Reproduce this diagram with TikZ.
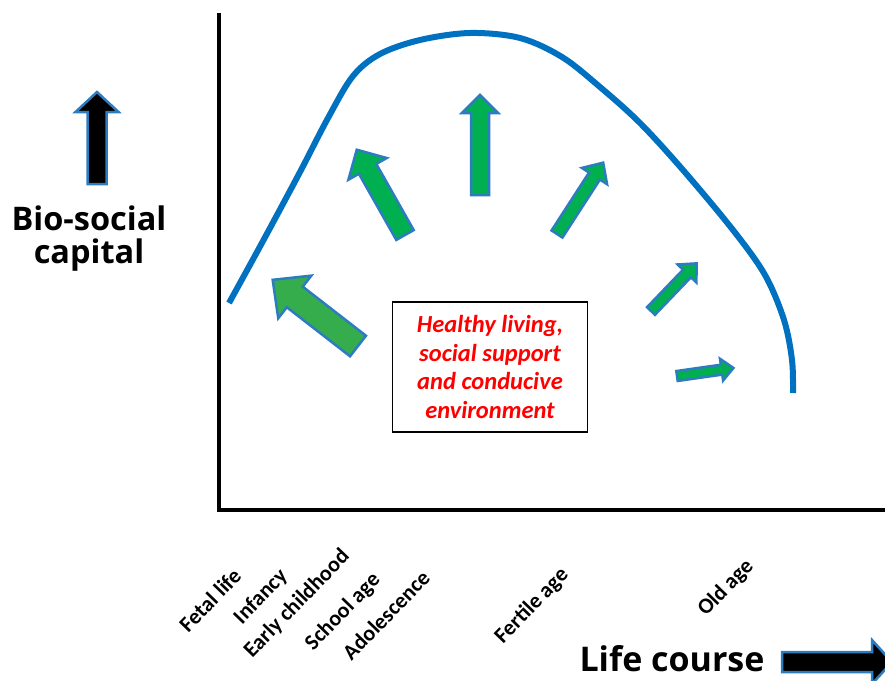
\documentclass[tikz,border=0pt]{standalone}
\usepackage{fontspec}
\setmainfont{Carlito}
\newfontfamily\headfont{Open Sans}
\usepackage{tikz}
\usetikzlibrary{positioning}
\usepackage{xcolor}
\definecolor{curveblue}{HTML}{0070C0}
\definecolor{rimblue}{HTML}{2E7CC0}
\definecolor{boostgreen}{HTML}{00B050}
\definecolor{biggreen}{HTML}{36AD4C}

% block arrow: tail point, angle, length, shaft width, head width, head length
\newcommand{\blockarrow}[7][boostgreen]{%
  \begin{scope}[shift={(#2)},rotate=#3]
    \filldraw[fill=#1,draw=rimblue,line width=2.5,line join=miter]
      (0,-#5/2) -- (#4-#7,-#5/2) -- (#4-#7,-#6/2) -- (#4,0)
      -- (#4-#7,#6/2) -- (#4-#7,#5/2) -- (0,#5/2) -- cycle;
  \end{scope}}

\begin{document}
\begin{tikzpicture}[x=1pt,y=-1pt,
  stage/.style={font=\fontsize{22}{22}\selectfont\bfseries,rotate=46,inner sep=0},
  axisname/.style={font=\headfont\fontsize{32.5}{32.5}\selectfont\bfseries,inner sep=0}]
\useasboundingbox (0,0) rectangle (885,680);

\coordinate (ytop) at (219,13);
\coordinate (o) at (219,510);
\coordinate (xend) at (885,510);
\draw[line width=4] (ytop) -- (o) -- (xend);

% bio-social capital over the life course
\draw[curveblue,line width=6] plot[smooth,tension=0.55] coordinates
  {(229,303) (263,241) (300,172) (328,118) (353,76) (380,54) (420,40) (470,33)
   (520,38) (562,57) (600,87) (640,123) (683,170) (733,230) (765,275) (784,320)
   (792,360) (793,393)};

\blockarrow[biggreen]{358,346}{142.2}{108}{26}{54}{28}
\blockarrow{405,235}{119.5}{98}{20}{44}{22}
\blockarrow{480,195}{90}{100}{18}{36}{18}
\blockarrow{557,234}{57.1}{85}{13}{30}{16}
\blockarrow{651,311}{46.2}{66}{11}{26}{14}
\blockarrow{677,376}{8.1}{57}{10}{22}{12}

\node[draw,line width=1.3,minimum width=195,minimum height=130,align=center,text=red,
  font=\fontsize{24.5}{28.5}\selectfont\bfseries\itshape] (care) at (490,367)
  {Healthy living,\\ social support\\ and conducive\\ environment};

\blockarrow[black]{97,184}{90}{92}{19}{43}{20}
\node[axisname,anchor=base] (bio) at (89,230) {Bio-social};
\node[axisname,anchor=base] (cap) at (89,263) {capital};

\node[axisname,anchor=base,font=\headfont\fontsize{34}{34}\selectfont\bfseries] (life) at (672,671) {Life course};
\blockarrow[black]{782,662}{0}{110}{20}{44}{20}

\node[stage] (fetal) at (210,600) {Fetal life};
\node[stage] (infancy) at (261,597) {Infancy};
\node[stage] (early) at (297,604) {Early childhood};
\node[stage] (school) at (343,612) {School age};
\node[stage] (adol) at (386,615) {Adolescence};
\node[stage] (fertile) at (532,606) {Fertile age};
\node[stage] (old) at (726,588) {Old age};
\end{tikzpicture}
\end{document}
